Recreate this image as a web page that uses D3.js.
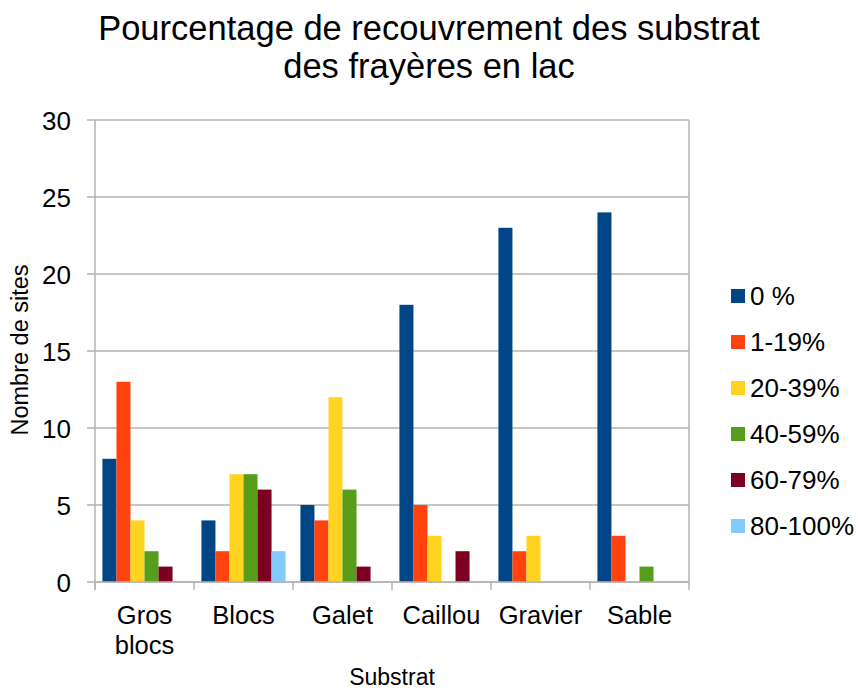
<!DOCTYPE html>
<html>
<head>
<meta charset="utf-8">
<script src="https://cdn.jsdelivr.net/npm/d3@7"></script>
<style>
  body { margin: 0; background: #fff; }
  svg { font-family: "Liberation Sans", Arial, sans-serif; }
</style>
</head>
<body>
<svg width="858" height="692"></svg>
<script>
const categories = ['Gros blocs', 'Blocs', 'Galet', 'Caillou', 'Gravier', 'Sable'];
const series = ['0 %', '1-19%', '20-39%', '40-59%', '60-79%', '80-100%'];
const colors = ['#004586', '#ff420e', '#ffd320', '#579d1c', '#7e0021', '#83caff'];
const values = [
  [8, 4, 5, 18, 23, 24],
  [13, 2, 4, 5, 2, 3],
  [4, 7, 12, 3, 3, 0],
  [2, 7, 6, 0, 0, 1],
  [1, 6, 1, 2, 0, 0],
  [0, 2, 0, 0, 0, 0]
];
const yTicks = [0, 5, 10, 15, 20, 25, 30];

const svg = d3.select('svg');
const margin = { left: 95, right: 689, top: 120, bottom: 582 };

const x0 = d3.scaleBand().domain(categories)
  .range([margin.left, margin.right])
  .paddingInner(0.15).paddingOuter(0.075);
const x1 = d3.scaleBand().domain(series).range([0, x0.bandwidth()]);
const y = d3.scaleLinear().domain([0, 30]).range([margin.bottom, margin.top]);

const grid = '#b3b3b3';

// gridlines
svg.append('g').selectAll('line').data(yTicks).enter().append('line')
  .attr('x1', margin.left - 8).attr('x2', margin.right)
  .attr('y1', d => y(d)).attr('y2', d => y(d))
  .attr('stroke', grid).attr('stroke-width', 1.5);

// right border
svg.append('line')
  .attr('x1', margin.right).attr('x2', margin.right)
  .attr('y1', margin.top).attr('y2', margin.bottom)
  .attr('stroke', grid).attr('stroke-width', 1.5);

// bars
const groups = svg.append('g').selectAll('g').data(categories).enter().append('g')
  .attr('transform', d => `translate(${x0(d)},0)`);

groups.selectAll('rect')
  .data((c, ci) => series.map((s, si) => ({ s, si, v: values[si][ci] })).filter(d => d.v > 0))
  .enter().append('rect')
  .attr('x', d => x1(d.s))
  .attr('width', x1.bandwidth())
  .attr('y', d => y(d.v))
  .attr('height', d => y(0) - y(d.v))
  .attr('fill', d => colors[d.si]);

// axes lines
svg.append('line')
  .attr('x1', margin.left).attr('x2', margin.left)
  .attr('y1', margin.top).attr('y2', margin.bottom + 8)
  .attr('stroke', grid).attr('stroke-width', 1.5);
svg.append('line')
  .attr('x1', margin.left).attr('x2', margin.right)
  .attr('y1', margin.bottom).attr('y2', margin.bottom)
  .attr('stroke', grid).attr('stroke-width', 1.5);

// x ticks
const tickXs = categories.map(c => x0(c) - x0.step() * 0.075).concat([margin.right]);
svg.append('g').selectAll('line').data(tickXs).enter().append('line')
  .attr('x1', d => d).attr('x2', d => d)
  .attr('y1', margin.bottom).attr('y2', margin.bottom + 8)
  .attr('stroke', grid).attr('stroke-width', 1.5);

// y tick labels
svg.append('g').selectAll('text').data(yTicks).enter().append('text')
  .attr('x', 71).attr('y', d => y(d) + 10)
  .attr('text-anchor', 'end')
  .attr('font-size', 26)
  .text(d => d);

// x labels
const xl = svg.append('g').selectAll('text').data(categories).enter().append('text')
  .attr('x', d => x0(d) + x0.bandwidth() / 2)
  .attr('y', 624)
  .attr('text-anchor', 'middle')
  .attr('font-size', 25.5);
xl.each(function(d) {
  const words = d === 'Gros blocs' ? ['Gros', 'blocs'] : [d];
  d3.select(this).selectAll('tspan').data(words).enter().append('tspan')
    .attr('x', x0(d) + x0.bandwidth() / 2)
    .attr('dy', (w, i) => i === 0 ? 0 : 30)
    .text(w => w);
});

// axis titles
svg.append('text')
  .attr('x', 392).attr('y', 685)
  .attr('text-anchor', 'middle').attr('font-size', 23)
  .text('Substrat');
svg.append('text')
  .attr('transform', `translate(28,350) rotate(-90)`)
  .attr('text-anchor', 'middle').attr('font-size', 23.5)
  .text('Nombre de sites');

// title
svg.append('text')
  .attr('x', 429).attr('y', 40)
  .attr('text-anchor', 'middle').attr('font-size', 34.5)
  .text('Pourcentage de recouvrement des substrat');
svg.append('text')
  .attr('x', 429).attr('y', 78)
  .attr('text-anchor', 'middle').attr('font-size', 34.5)
  .text('des frayères en lac');

// legend
const legend = svg.append('g').selectAll('g').data(series).enter().append('g')
  .attr('transform', (d, i) => `translate(731,${296 + i * 46})`);
legend.append('rect')
  .attr('x', 0).attr('y', -7).attr('width', 14).attr('height', 14)
  .attr('fill', (d, i) => colors[i]);
legend.append('text')
  .attr('x', 19).attr('y', 9)
  .attr('font-size', 26)
  .text(d => d);
</script>
</body>
</html>
